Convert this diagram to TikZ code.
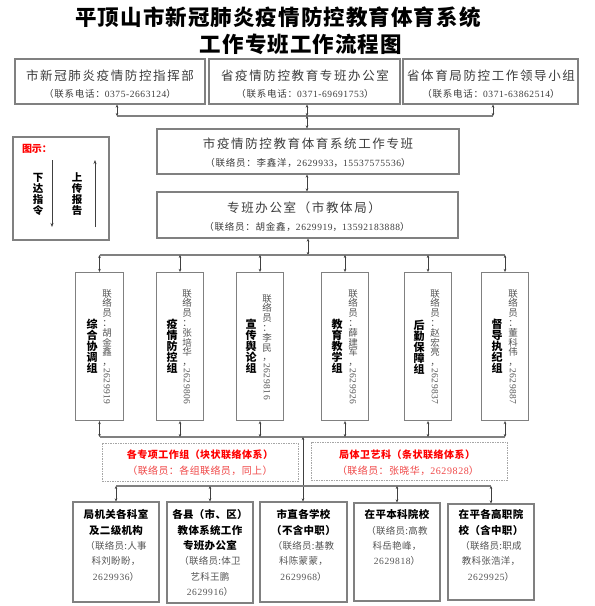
\documentclass[tikz,border=0pt]{standalone}
\usepackage{fontspec}
\usepackage{graphicx}
\setmainfont{Liberation Serif}
\newfontfamily\cjk{Noto Sans CJK SC}
\newfontfamily\dgf{Liberation Serif}[LetterSpace=6]
\newcommand\dg[1]{{\dgf #1}}
\newcommand\fs[1]{\fontsize{#1}{#1}\selectfont}
\newcommand\fsb[2]{\fontsize{#1}{#2}\selectfont}
\newcommand\bb[1]{{\color{black}\bfseries\fontsize{10.5}{15.3}\selectfont #1}}
\usetikzlibrary{arrows.meta}
\definecolor{boxgray}{HTML}{808080}
\definecolor{txtgray}{HTML}{3C3C3C}
\definecolor{cgray}{HTML}{555555}
\definecolor{redA}{HTML}{FF0000}
\definecolor{redB}{HTML}{F04848}
\tikzset{
 box/.style={draw=boxgray, line width=1.2pt, inner sep=0pt},
 dbox/.style={draw=gray!70, line width=0.8pt, dash pattern=on 1.5pt off 1pt, inner sep=0pt},
 link/.style={draw=black!75, line width=0.7pt},
 bar/.style={draw=boxgray, line width=1.1pt},
 dbl/.style={link, {Stealth[length=3pt,width=2.6pt]}-{Stealth[length=3pt,width=2.6pt]}},
 one/.style={link, -{Stealth[length=4pt,width=3pt]}},
 ttl/.style={inner sep=0pt, font=\cjk\bfseries\fs{21.5}\addfontfeature{LetterSpace=5}},
 hd/.style={inner sep=0pt, text=txtgray, font=\cjk\fs{12.5}\addfontfeature{LetterSpace=13}},
 sub/.style={inner sep=0pt, text=txtgray, font=\cjk\fs{9.5}\addfontfeature{LetterSpace=8}},
 vt/.style={inner sep=0pt, align=center, font=\cjk\bfseries\fsb{11}{11}},
 vc/.style={inner sep=0pt, align=center, text=cgray, font=\cjk\fsb{9.5}{9.8}, anchor=north},
 vd/.style={inner sep=0pt, text=cgray, font=\dgf\fs{9.5}, rotate=-90, anchor=west},
 rt/.style={inner sep=0pt, text=redA, font=\cjk\bfseries\fs{10}\addfontfeature{LetterSpace=5}},
 rs/.style={inner sep=0pt, text=redB, font=\cjk\fs{10}\addfontfeature{LetterSpace=4}},
 bt/.style={inner sep=0pt, align=center, anchor=north, text=cgray, font=\cjk\fsb{9.5}{15.3}\addfontfeature{LetterSpace=3}},
}
\begin{document}
\begin{tikzpicture}[x=1pt,y=-1pt]
\useasboundingbox (0,0) rectangle (595,606);
\fill[white] (0,0) rectangle (595,606);
% title
\node[ttl] (ti1) at (278,17) {平顶山市新冠肺炎疫情防控教育体育系统};
\node[ttl] (ti2) at (301,44) {工作专班工作流程图};
% top boxes
\node[box, minimum width=190pt, minimum height=45pt] (t1) at (110,81.5) {};
\node[box, minimum width=191pt, minimum height=45pt] (t2) at (304.5,81.5) {};
\node[box, minimum width=175pt, minimum height=45pt] (t3) at (490.5,81.5) {};
\node[hd] (t1a) at (110,76) {市新冠肺炎疫情防控指挥部};
\node[sub] (t1b) at (110,94) {（联系电话：\dg{0375-2663124}）};
\node[hd] (t2a) at (305,76) {省疫情防控教育专班办公室};
\node[sub] (t2b) at (305,94) {（联系电话：\dg{0371-69691753}）};
\node[hd] (t3a) at (491,76) {省体育局防控工作领导小组};
\node[sub] (t3b) at (491,94) {（联系电话：\dg{0371-63862514}）};
% middle boxes
\node[box, minimum width=302pt, minimum height=45pt] (m1) at (308,151.5) {};
\node[hd] (m1a) at (308,144) {市疫情防控教育体育系统工作专班};
\node[sub] (m1b) at (308,163) {（联络员：李鑫洋，\dg{2629933}，\dg{15537575536}）};
\node[box, minimum width=301pt, minimum height=46pt] (m2) at (307.5,215) {};
\node[hd] (m2a) at (304,208) {专班办公室（市教体局）};
\node[sub] (m2b) at (307,227) {（联络员：胡金鑫，\dg{2629919}，\dg{13592183888}）};
% legend
\node[box, minimum width=96pt, minimum height=103pt] (lg) at (61,188.5) {};
\node[inner sep=0pt, text=redA, font=\cjk\bfseries\fs{10}] (lgt) at (37,149) {图示：};
\node[vt, font=\cjk\bfseries\fsb{10.5}{11}] (lgd) at (38,194) {下\\达\\指\\令};
\node[vt, font=\cjk\bfseries\fsb{10.5}{11}] (lgu) at (77,194) {上\\传\\报\\告};
\coordinate (la1) at (52,160); \coordinate (la2) at (52,227);
\coordinate (lb1) at (95,227); \coordinate (lb2) at (95,160);
\draw[one] (la1) -- (la2);
\draw[one] (lb1) -- (lb2);
% top connectors
\coordinate (jA) at (117,116); \coordinate (jB) at (307,116); \coordinate (jC) at (493,116);
\draw[bar] (jA) -- (jC);
\draw[dbl] (t1.south -| jA) -- (jA);
\draw[dbl] (t2.south -| jB) -- (jB);
\draw[dbl] (t3.south -| jC) -- (jC);
\draw[dbl] (jB) -- (m1.north -| jB);
\draw[dbl] (m1.south -| jB) -- (m2.north -| jB);
% six group boxes
\foreach \n/\x in {1/99.5,2/180,3/260,4/345,5/428,6/505}{
  \node[box, minimum width=47.5pt, minimum height=148pt] (g\n) at (\x,346.5) {};
}
\node[vt] (g1t) at (92,346) {综\\合\\协\\调\\组};
\node[vt] (g2t) at (172,346) {疫\\情\\防\\控\\组};
\node[vt] (g3t) at (251,346) {宣\\传\\舆\\论\\组};
\node[vt] (g4t) at (337,346) {教\\育\\教\\学\\组};
\node[vt] (g5t) at (419,347) {后\\勤\\保\\障\\组};
\node[vt] (g6t) at (497,346) {督\\导\\执\\纪\\组};
\node[vc] (g1c) at (107,289) {联\\络\\员\\：\\胡\\金\\鑫\\，};
\node[vd] (g1d) at ([yshift=-1pt]g1c.south) {2629919};
\node[vc] (g2c) at (187,289) {联\\络\\员\\：\\张\\培\\华\\，};
\node[vd] (g2d) at ([yshift=-1pt]g2c.south) {2629806};
\node[vc] (g3c) at (267,294) {联\\络\\员\\：\\李\\民\\，};
\node[vd] (g3d) at ([yshift=-1pt]g3c.south) {2629816};
\node[vc] (g4c) at (353,289) {联\\络\\员\\：\\薛\\建\\军\\，};
\node[vd] (g4d) at ([yshift=-1pt]g4c.south) {2629926};
\node[vc] (g5c) at (435,289) {联\\络\\员\\：\\赵\\宏\\亮\\，};
\node[vd] (g5d) at ([yshift=-1pt]g5c.south) {2629837};
\node[vc] (g6c) at (513,289) {联\\络\\员\\：\\董\\科\\伟\\，};
\node[vd] (g6d) at ([yshift=-1pt]g6c.south) {2629887};
% group connectors
\coordinate (jD) at (308,255);
\coordinate (jE) at (303,437);
\draw[dbl] (m2.south -| jD) -- (jD);
\draw[bar] (g1.north |- jD) -- (g6.north |- jD);
\draw[bar] (g1.south |- jE) -- (g6.south |- jE);
\foreach \n in {1,...,6}{
  \draw[dbl] (g\n.north |- jD) -- (g\n.north);
  \draw[dbl] (g\n.south) -- (g\n.south |- jE);
}
% red boxes
\node[dbox, minimum width=196pt, minimum height=38pt] (r1) at (200,462) {};
\node[dbox, minimum width=196pt, minimum height=38pt] (r2) at (409,461) {};
\node[rt] (r1a) at (200,455) {各专项工作组（块状联络体系）};
\node[rs] (r1b) at (200,471) {（联络员：各组联络员，同上）};
\node[rt] (r2a) at (407,455) {局体卫艺科（条状联络体系）};
\node[rs] (r2b) at (408,471) {（联络员：张晓华，\dg{2629828}）};
% bottom boxes
\node[box, minimum width=86pt, minimum height=100pt] (k1) at (116,552) {};
\node[box, minimum width=86pt, minimum height=101pt] (k2) at (210,552.5) {};
\node[box, minimum width=87pt, minimum height=100pt] (k3) at (303.5,552) {};
\node[box, minimum width=86pt, minimum height=98pt] (k4) at (397,552) {};
\node[box, minimum width=86pt, minimum height=96pt] (k5) at (491,552) {};
\node[bt] (k1t) at (116,509.5) {\bb{局机关各科室}\\\bb{及二级机构}\\（联络员:人事\\科刘盼盼，\\\dg{2629936}）};
\node[bt] (k2t) at (210,509.5) {\bb{各县（市、区）}\\\bb{教体系统工作}\\\bb{专班办公室}\\（联络员:体卫\\艺科王鹏\\\dg{2629916}）};
\node[bt] (k3t) at (303.5,509.5) {\bb{市直各学校}\\\bb{（不含中职）}\\（联络员:基教\\科陈蒙蒙，\\\dg{2629968}）};
\node[bt] (k4t) at (397,509.5) {\bb{在平本科院校}\\（联络员:高教\\科岳艳峰，\\\dg{2629818}）};
\node[bt] (k5t) at (491,509.5) {\bb{在平各高职院}\\\bb{校（含中职）}\\（联络员:职成\\教科张浩洋，\\\dg{2629925}）};
% bottom connectors
\coordinate (jF) at (303,486);
\draw[dbl] (jE) -- (k3.north -| jE);
\draw[bar] (k1.north |- jF) -- (k5.north |- jF);
\foreach \n in {1,2,4,5}{
  \draw[dbl] (k\n.north |- jF) -- (k\n.north);
}
\end{tikzpicture}
\end{document}
